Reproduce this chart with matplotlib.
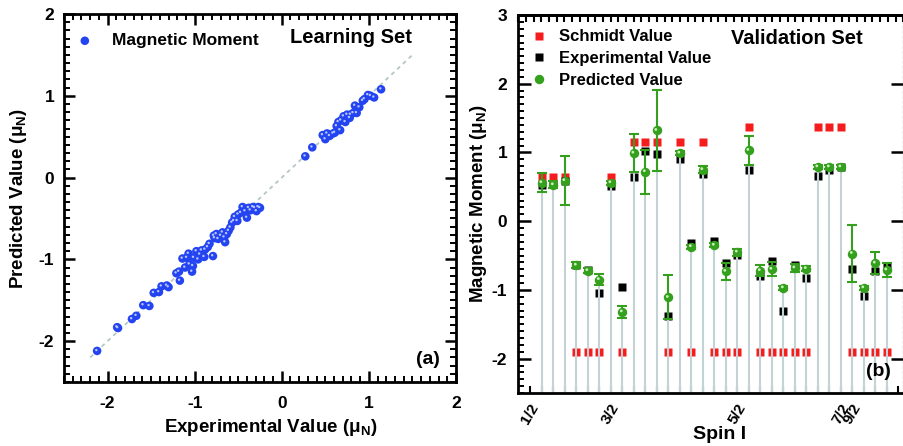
import numpy as np
import matplotlib
matplotlib.use('Agg')
import matplotlib.pyplot as plt
from matplotlib.ticker import MultipleLocator, FixedLocator, NullLocator
from matplotlib.lines import Line2D
import matplotlib.transforms as mtransforms

plt.rcParams['font.family'] = ['Liberation Sans', 'DejaVu Sans']
plt.rcParams['font.weight'] = 'bold'
plt.rcParams['axes.unicode_minus'] = False
plt.rcParams['mathtext.fontset'] = 'custom'
plt.rcParams['mathtext.bf'] = 'Liberation Sans:bold'
plt.rcParams['mathtext.rm'] = 'Liberation Sans:bold'
plt.rcParams['mathtext.it'] = 'Liberation Sans:bold'

# ---------------- data: learning set ----------------
learn_exp = [-2.12, -1.89, -1.88, -1.72, -1.67, -1.59, -1.52, -1.47, -1.41, -1.38, -1.32, -1.30,
             -1.21, -1.17, -1.18, -1.14, -1.11, -1.09, -1.07, -1.06, -1.03, -1.02, -1.01, -0.98,
             -0.96, -0.94, -0.92, -0.89, -0.88, -0.85, -0.83, -0.79, -0.78, -0.77, -0.75, -0.73,
             -0.70, -0.68, -0.66, -0.65, -0.63, -0.61, -0.59, -0.57, -0.55, -0.54, -0.51, -0.50,
             -0.47, -0.45, -0.42, -0.40, -0.38, -0.36, -0.33, -0.31, -0.29, -0.27, -0.25,
             0.27, 0.35, 0.47, 0.50, 0.52, 0.55, 0.59, 0.61, 0.63, 0.65, 0.67, 0.68, 0.71, 0.73,
             0.75, 0.78, 0.79, 0.82, 0.84, 0.86, 0.89, 0.93, 0.95, 0.99, 1.02, 1.06, 1.14]
learn_pred = [-2.12, -1.83, -1.84, -1.73, -1.69, -1.56, -1.57, -1.41, -1.40, -1.33, -1.32, -1.34,
              -1.17, -1.26, -1.15, -0.99, -1.10, -0.98, -0.93, -1.06, -1.15, -1.08, -0.98, -0.90,
              -1.00, -0.94, -0.89, -0.97, -0.88, -0.85, -0.81, -0.96, -0.71, -0.74, -0.69, -0.75,
              -0.71, -0.67, -0.73, -0.79, -0.69, -0.65, -0.61, -0.55, -0.53, -0.48, -0.53, -0.45,
              -0.43, -0.36, -0.41, -0.49, -0.37, -0.40, -0.36, -0.37, -0.41, -0.36, -0.37,
              0.26, 0.37, 0.52, 0.47, 0.54, 0.51, 0.54, 0.55, 0.63, 0.68, 0.58, 0.70, 0.75, 0.68,
              0.77, 0.73, 0.77, 0.79, 0.88, 0.79, 0.86, 0.94, 0.96, 1.01, 1.00, 0.98, 1.08]
diag = [-2.2, 1.5]

# ---------------- data: validation set ----------------
val_index = np.arange(31)
schmidt = [0.64, 0.64, 0.64, -1.91, -1.91, -1.91, 0.64, -1.91, 1.15, 1.15, 1.15, -1.91, 1.15,
           -1.91, 1.15, -1.91, -1.91, -1.91, 1.37, -1.91, -1.91, -1.91, -1.91, -1.91, 1.37,
           1.37, 1.37, -1.91, -1.91, -1.91, -1.91]
experimental = [0.53, 0.54, 0.59, -0.63, -0.71, -1.04, 0.51, -0.96, 0.65, 1.02, 0.98, -1.38,
                0.91, -0.31, 0.69, -0.29, -0.61, -0.49, 0.74, -0.80, -0.58, -1.30, -0.64,
                -0.82, 0.66, 0.75, 0.79, -0.69, -1.09, -0.72, -0.66]
predicted = [0.56, 0.53, 0.59, -0.64, -0.72, -0.85, 0.56, -1.32, 0.99, 0.72, 1.32, -1.11,
             0.99, -0.37, 0.75, -0.35, -0.73, -0.45, 1.03, -0.72, -0.70, -0.97, -0.68,
             -0.69, 0.79, 0.79, 0.79, -0.47, -0.97, -0.61, -0.71]
pred_err = [0.135, 0.05, 0.355, 0.04, 0.04, 0.075, 0.03, 0.085, 0.275, 0.32, 0.585, 0.32,
            0.03, 0.03, 0.05, 0.03, 0.125, 0.05, 0.21, 0.08, 0.10, 0.03, 0.06, 0.04, 0.03,
            0.03, 0.03, 0.41, 0.03, 0.16, 0.105]
spin_ticks = [0, 7, 18, 27, 28]
spin_labels = ['1/2', '3/2', '5/2', '7/2', '9/2']

# ---------------- figure ----------------
fig = plt.figure(figsize=(9.04, 4.46), dpi=100)
ax1 = fig.add_axes([0.0708, 0.1435, 0.4336, 0.825])
ax2 = fig.add_axes([0.5733, 0.1188, 0.4259, 0.8475])

blue = '#2444f2'
red = '#f41c1c'
green = '#35a01e'
drop = '#c4d2d6'

# ---- panel (a) ----
ax1.plot(diag, diag, color='#b4c6c6', lw=1.3, ls=(0, (2.2, 2.2)), zorder=1)
ax1.scatter(learn_exp, learn_pred, s=38, color=blue, edgecolors='none', zorder=3,
            label='Magnetic Moment')
hl1 = mtransforms.offset_copy(ax1.transData, fig=fig, x=-0.8, y=0.9, units='dots')
ax1.scatter(learn_exp, learn_pred, s=3, color='#b8c4ff', edgecolors='none', zorder=4,
            transform=hl1)
ax1.set_xlim(-2.5, 2.0)
ax1.set_ylim(-2.5, 2.0)
ax1.xaxis.set_major_locator(MultipleLocator(1))
ax1.yaxis.set_major_locator(MultipleLocator(1))
ax1.xaxis.set_minor_locator(MultipleLocator(0.1))
ax1.yaxis.set_minor_locator(MultipleLocator(0.1))
ax1.tick_params(which='both', direction='in', top=True, right=True, labelsize=12.5)
ax1.tick_params(which='major', length=8, width=1.8)
ax1.tick_params(which='minor', length=4, width=1.4)
ax1.tick_params(axis='x', which='major', pad=10)
ax1.tick_params(axis='y', which='major', pad=7)
for s in ax1.spines.values():
    s.set_linewidth(2.0)
ax1.set_xlabel('Experimental Value (μ$_\\mathbf{N}$)', fontsize=13.5, fontweight='bold')
ax1.set_ylabel('Predicted Value (μ$_\\mathbf{N}$)', fontsize=13.5, fontweight='bold')
ax1.xaxis.set_label_coords(0.528, -0.095)
ax1.yaxis.set_label_coords(-0.09, 0.5)
ax1.legend(loc='upper left', bbox_to_anchor=(0.031, 0.948), frameon=False, fontsize=12.5,
           handlelength=1.0, handletextpad=1.05, borderaxespad=0, borderpad=0,
           scatterpoints=1, markerscale=1.0)
ax1.text(0.733, 0.935, 'Learning Set', transform=ax1.transAxes, ha='center', va='center',
         fontsize=14.5, fontweight='bold')
ax1.text(0.928, 0.06, '(a)', transform=ax1.transAxes, ha='center', va='center',
         fontsize=14, fontweight='bold')

# ---- panel (b) ----
ax2.set_xlim(-2.03, 31.45)
ax2.set_ylim(-2.5, 3.0)
ax2.vlines(val_index, -2.5, predicted, color=drop, lw=1.5, zorder=2)
ax2.plot(val_index, schmidt, 's', color=red, ms=6.0, mec='none', zorder=1)
ax2.plot(val_index, experimental, 's', color='black', ms=5.8, mec='none', zorder=1.5)
ax2.errorbar(val_index, predicted, yerr=pred_err, fmt='o', color=green, ms=6.8, mec='none',
             ecolor=green, elinewidth=1.5, capsize=3.3, capthick=1.5, zorder=4)
hl2 = mtransforms.offset_copy(ax2.transData, fig=fig, x=-0.8, y=1.0, units='dots')
ax2.scatter(val_index, predicted, s=4, color='#c8f0b8', edgecolors='none', zorder=5,
            transform=hl2)

ax2.yaxis.set_major_locator(MultipleLocator(1))
ax2.yaxis.set_minor_locator(MultipleLocator(0.1))
ax2.xaxis.set_major_locator(FixedLocator(list(range(-1, 32))))
ax2.xaxis.set_minor_locator(NullLocator())
tick_text = ['' for _ in range(-1, 32)]
for pos, lab in zip(spin_ticks, spin_labels):
    tick_text[pos + 1] = lab
ax2.set_xticklabels(tick_text, rotation=60, ha='right', fontsize=11, fontweight='bold')
ax2.tick_params(axis='x', which='major', direction='in', length=5, width=1.5, pad=6)
ax2.tick_params(axis='y', which='both', direction='in', left=True, right=True, labelsize=12.5)
ax2.tick_params(axis='y', which='major', length=9, width=1.8, pad=8)
ax2.tick_params(axis='y', which='minor', length=4, width=1.4, right=False)
ax2.tick_params(axis='y', which='major', right=True)
for side in ['left', 'top', 'bottom']:
    ax2.spines[side].set_linewidth(2.0)
ax2.spines['right'].set_linewidth(0.9)
ax2.spines['right'].set_color('#999999')
ax2.spines['right'].set_linestyle((0, (2, 2)))
ax2.set_xlabel('Spin I', fontsize=14, fontweight='bold')
ax2.xaxis.set_label_coords(0.522, -0.086)
ax2.set_ylabel('Magnetic Moment (μ$_\\mathbf{N}$)', fontsize=13.5, fontweight='bold')
ax2.yaxis.set_label_coords(-0.075, 0.5)

ax3 = ax2.twiny()
ax3.set_xlim(0, 50)
ax3.xaxis.set_major_locator(MultipleLocator(1))
ax3.tick_params(axis='x', direction='in', length=5, width=1.5, labeltop=False, top=True)
for side in ['left', 'right', 'bottom']:
    ax3.spines[side].set_visible(False)
ax3.spines['top'].set_linewidth(2.0)

handles = [Line2D([], [], ls='none', marker='s', color=red, ms=6.0, mec='none'),
           Line2D([], [], ls='none', marker='s', color='black', ms=5.8, mec='none'),
           Line2D([], [], ls='none', marker='o', color=green, ms=6.8, mec='none')]
ax2.legend(handles, ['Schmidt Value', 'Experimental Value', 'Predicted Value'],
           loc='upper left', bbox_to_anchor=(0.031, 0.962), frameon=False, fontsize=12,
           handlelength=1.0, handletextpad=0.7, borderaxespad=0, borderpad=0,
           labelspacing=0.41)
ax2.text(0.724, 0.938, 'Validation Set', transform=ax2.transAxes, ha='center', va='center',
         fontsize=14.5, fontweight='bold')
ax2.text(0.936, 0.056, '(b)', transform=ax2.transAxes, ha='center', va='center',
         fontsize=14, fontweight='bold')

fig.savefig('out.png', dpi=100)
